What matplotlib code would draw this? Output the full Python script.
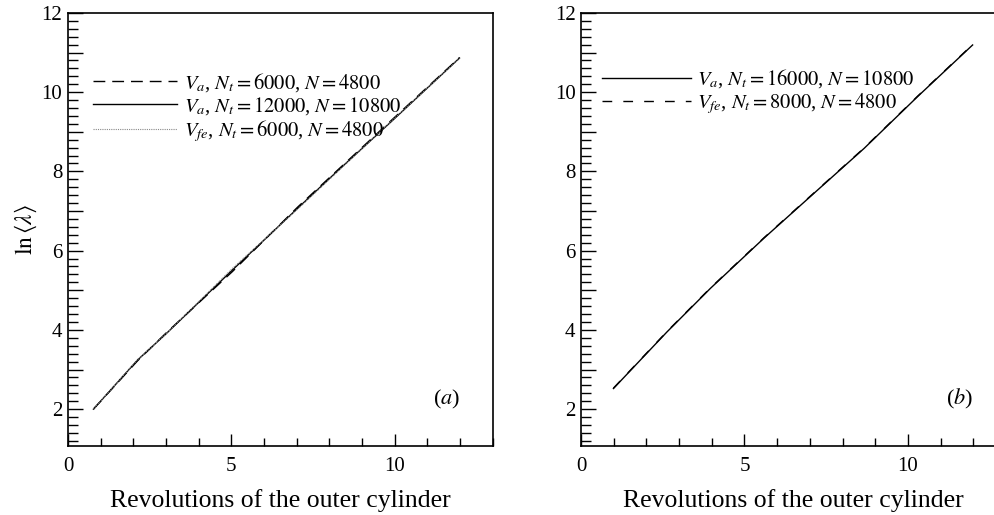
import matplotlib
matplotlib.use('Agg')
import matplotlib.pyplot as plt
from matplotlib.ticker import MultipleLocator, FixedLocator

plt.rcParams['font.family'] = ['Liberation Serif', 'DejaVu Serif']
plt.rcParams['mathtext.fontset'] = 'stix'

# panel (a)
a_x = [0.78, 2.13, 3.0, 5.03, 7.03, 8.17, 9.95, 11.98]
a_va6000 = [2.0, 3.22, 3.92, 5.47, 7.10, 7.97, 9.33, 10.87]
a_va12000 = [2.0, 3.24, 3.90, 5.51, 7.07, 7.95, 9.30, 10.86]
a_vfe6000 = [2.0, 3.25, 3.90, 5.55, 7.05, 7.93, 9.31, 10.85]

# panel (b)
b_x = [0.99, 2.63, 3.96, 5.59, 7.13, 8.66, 10.30, 11.98]
b_va16000 = [2.52, 3.95, 5.05, 6.31, 7.45, 8.58, 9.89, 11.19]
b_vfe8000 = [2.53, 3.96, 5.06, 6.32, 7.46, 8.59, 9.90, 11.20]

y_ticks = list(range(2, 13))
y_ticklabels = [str(v) if v % 2 == 0 else '' for v in y_ticks]

fig = plt.figure(figsize=(9.95, 5.15), dpi=100)
ax1 = fig.add_axes([0.0683, 0.134, 0.427, 0.841])
ax2 = fig.add_axes([0.584, 0.134, 0.427, 0.841])


def style_axes(ax):
    ax.set_xlim(0, 13)
    ax.set_ylim(1.07, 12)
    ax.xaxis.set_major_locator(FixedLocator([0, 5, 10]))
    ax.xaxis.set_minor_locator(MultipleLocator(1))
    ax.set_yticks(y_ticks)
    ax.set_yticklabels(y_ticklabels)
    ax.yaxis.set_minor_locator(MultipleLocator(0.2))
    ax.tick_params(which='both', direction='in', top=False, right=False,
                   labelsize=15, width=1.0)
    ax.tick_params(axis='y', which='major', length=11, pad=4)
    ax.tick_params(axis='y', which='minor', length=7)
    ax.tick_params(axis='x', which='major', length=9, pad=8)
    ax.tick_params(axis='x', which='minor', length=6)
    for s in ax.spines.values():
        s.set_linewidth(1.2)
    ax.set_xlabel('Revolutions of the outer cylinder', fontsize=18.5, labelpad=9)


ax1.plot(a_x, a_va6000, color='black', ls=(0, (8.5, 5)), lw=1.0,
         label=r'$V_a$, $N_t = 6000$, $N = 4800$')
ax1.plot(a_x, a_va12000, color='black', ls='-', lw=1.0,
         label=r'$V_a$, $N_t = 12000$, $N = 10800$')
ax1.plot(a_x, a_vfe6000, color='#888888', ls=(0, (1, 1)), lw=0.8,
         label=r'$V_{fe}$, $N_t = 6000$, $N = 4800$')
style_axes(ax1)
ax1.set_ylabel(r'$\ln\langle\lambda\rangle$', fontsize=17, labelpad=2)
ax1.legend(loc='upper left', bbox_to_anchor=(0.04, 0.885), frameon=False,
           fontsize=14.8, handlelength=4.1, handletextpad=0.3,
           labelspacing=0.05, borderaxespad=0)
ax1.text(0.86, 0.095, r'($a$)', transform=ax1.transAxes, fontsize=16)

ax2.plot(b_x, b_va16000, color='black', ls='-', lw=1.0,
         label=r'$V_a$, $N_t = 16000$, $N = 10800$')
ax2.plot(b_x, b_vfe8000, color='black', ls=(0, (7, 8)), lw=1.0,
         label=r'$V_{fe}$, $N_t = 8000$, $N = 4800$')
style_axes(ax2)
ax2.legend(loc='upper left', bbox_to_anchor=(0.031, 0.893), frameon=False,
           fontsize=14.8, handlelength=4.3, handletextpad=0.3,
           labelspacing=0.05, borderaxespad=0)
ax2.text(0.86, 0.095, r'($b$)', transform=ax2.transAxes, fontsize=16)

fig.savefig('out.png', dpi=100)
